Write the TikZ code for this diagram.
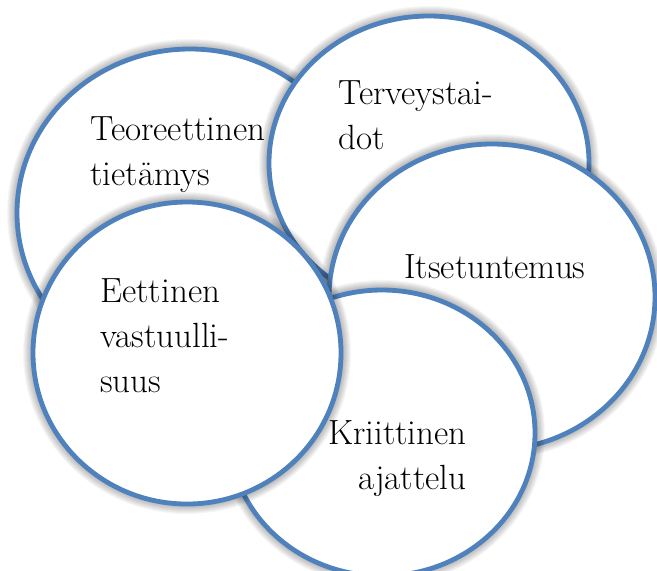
\documentclass[tikz,border=0pt]{standalone}
\usetikzlibrary{positioning}

\definecolor{ringblue}{RGB}{79,129,189}
\tikzset{
  ring/.style={draw=ringblue,line width=2.4pt,fill=white},
  word/.style={font=\fontsize{17.5}{22.5}\selectfont,inner sep=0pt,align=left}
}

\begin{document}
\begin{tikzpicture}[x=0.5pt,y=-0.5pt]

\useasboundingbox (0,0) rectangle (657,570);

% back to front
\foreach \cx/\cy/\rx/\ry in {190/213/173/164, 429/163/160/147, 492/297/163/153,
                             382/433/153/143, 187/353/154/151}{
  \foreach \k in {2,...,10}
    \fill[black,opacity=0.035] (\cx,\cy) ellipse ({\rx+\k} and {\ry+\k});
  \draw[ring] (\cx,\cy) ellipse ({\rx} and {\ry});
}

\node[word,anchor=base west] (teo) at (90,185) {Teoreettinen\\tietämys};
\node[word,anchor=base west] (ter) at (338,149) {Terveystai-\\dot};
\node[word,anchor=base west] (itse) at (404,278) {Itsetuntemus};
\node[word,anchor=base west] (eet) at (100,392) {Eettinen\\vastuulli-\\suus};
\node[word,anchor=base east,align=right] (kri) at (467,489) {Kriittinen\\ajattelu};

\end{tikzpicture}
\end{document}
